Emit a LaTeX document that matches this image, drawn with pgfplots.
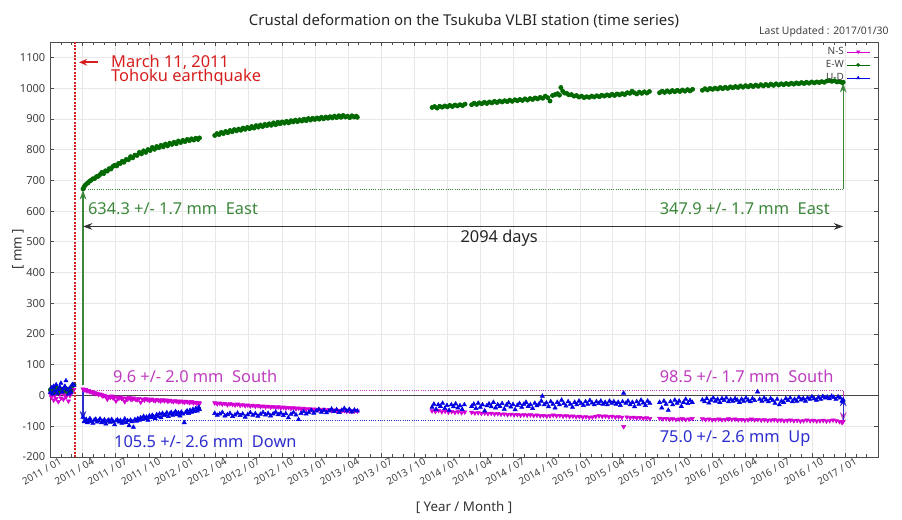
\documentclass[border=0pt]{standalone}
\usepackage{fontspec}
\setmainfont{Noto Sans}
\usepackage{pgfplots}
\usepackage{pgfplotstable}
\pgfplotsset{compat=1.18}
\usetikzlibrary{arrows.meta}
\definecolor{ewc}{RGB}{0,105,0}
\definecolor{ewl}{RGB}{60,135,60}
\definecolor{nsc}{RGB}{210,0,210}
\definecolor{nsl}{RGB}{190,60,190}
\definecolor{udc}{RGB}{0,0,225}
\definecolor{udl}{RGB}{45,45,205}
\definecolor{redc}{RGB}{215,30,30}
\newcommand\annfont{\fontsize{12.3}{14}\selectfont}

\pgfplotstableread{
d v
1 18
4 22
7 15
10 20
13 12
17 25
20 18
23 10
27 22
30 16
34 20
37 14
41 24
44 19
48 12
51 21
55 17
58 15
62 32
66 35
91 672
94 679
97 684
101 689
105 692
109 697
113 700
118 705
123 706
128 712
133 713
138 719
143 726
148 722
153 731
158 730
163 738
168 737
173 745
178 749
184 747
189 755
194 755
199 762
204 759
210 768
216 767
222 777
228 773
234 782
240 781
246 791
252 786
258 796
264 791
270 800
276 797
282 807
288 801
294 810
300 806
306 814
312 809
318 818
324 812
330 821
336 817
342 824
348 819
354 828
360 823
366 830
372 826
378 833
384 829
390 835
396 831
402 837
408 833
412 838
454 846
460 852
466 849
472 856
478 852
484 859
490 855
496 862
502 858
508 865
514 861
520 867
526 863
532 870
538 866
544 872
550 868
556 875
562 870
568 878
574 873
580 880
586 875
592 882
598 878
604 884
610 879
616 887
622 881
628 889
634 884
640 890
646 886
652 892
658 887
664 894
670 890
676 896
682 891
688 897
694 893
700 899
706 894
712 901
718 896
724 902
730 898
736 903
742 899
748 905
754 900
760 906
766 902
772 907
778 903
784 909
790 904
796 910
802 905
808 911
814 906
820 909
826 904
832 910
838 906
844 909
847 905
1053 937
1060 940
1067 935
1074 941
1081 938
1088 942
1095 939
1102 944
1109 940
1116 945
1123 942
1130 946
1137 943
1144 948
1162 946
1169 951
1176 947
1183 952
1190 949
1197 954
1204 950
1211 955
1218 952
1225 957
1232 953
1239 958
1246 955
1253 959
1260 956
1267 961
1274 957
1281 962
1288 959
1295 963
1302 960
1309 965
1316 961
1323 966
1330 963
1337 968
1344 965
1351 970
1358 967
1365 974
1372 969
1378 958
1385 976
1392 979
1399 982
1404 977
1408 1002
1413 990
1418 984
1424 983
1430 978
1437 979
1444 974
1451 976
1458 971
1465 974
1472 969
1479 972
1486 970
1493 974
1500 971
1507 975
1514 972
1521 977
1528 974
1535 978
1542 975
1549 980
1556 976
1563 981
1570 978
1577 982
1584 979
1591 985
1598 983
1604 990
1610 985
1617 981
1624 987
1631 983
1638 988
1645 984
1652 989
1680 985
1687 990
1694 986
1701 991
1708 987
1715 992
1722 988
1729 993
1736 989
1743 994
1750 990
1757 995
1764 991
1771 996
1798 993
1805 998
1812 994
1819 999
1826 996
1833 1000
1840 997
1847 1002
1854 998
1861 1003
1868 999
1875 1004
1882 1001
1889 1005
1896 1002
1903 1007
1910 1003
1917 1008
1924 1004
1931 1009
1938 1005
1945 1010
1952 1006
1959 1011
1966 1007
1973 1012
1980 1008
1987 1013
1994 1009
2001 1014
2008 1010
2015 1014
2022 1011
2029 1015
2036 1012
2043 1016
2050 1013
2057 1017
2064 1014
2071 1018
2078 1015
2085 1019
2092 1016
2099 1020
2106 1017
2113 1020
2120 1018
2127 1021
2134 1019
2141 1023
2148 1025
2155 1022
2162 1024
2169 1020
2176 1021
2183 1018
2186 1019
}\ewtab

\pgfplotstableread{
d v
1 5
4 -5
7 10
10 -15
13 0
17 -10
20 12
23 -20
27 5
30 -8
34 8
37 -12
41 3
44 -5
48 10
51 -18
55 0
58 6
62 15
66 20
91 21
94 18
98 19
102 15
106 16
110 12
114 13
118 8
122 10
126 6
130 7
134 3
138 5
142 2
146 -2
150 1
154 -3
158 -12
162 -4
166 -6
170 -2
174 -8
178 -5
182 -18
186 -7
190 -9
194 -5
198 -10
202 -8
206 -20
210 -9
214 -12
218 -7
222 -11
226 -13
230 -8
235 -12
240 -14
245 -10
250 -22
255 -12
260 -15
265 -11
270 -14
275 -16
280 -12
285 -15
290 -17
295 -13
300 -16
305 -18
310 -14
315 -17
320 -15
325 -19
330 -16
335 -18
340 -20
345 -17
350 -19
355 -21
360 -18
365 -20
370 -22
375 -19
380 -21
385 -23
390 -20
395 -24
400 -22
405 -25
410 -23
412 -26
454 -24
461 -27
468 -25
475 -28
482 -26
489 -30
496 -27
503 -29
510 -31
517 -28
524 -32
531 -30
538 -33
545 -31
552 -34
559 -32
566 -35
573 -33
580 -36
587 -34
594 -37
601 -35
608 -38
615 -36
622 -39
629 -37
636 -40
643 -38
650 -41
657 -39
664 -42
671 -40
678 -43
685 -41
692 -44
699 -42
706 -45
713 -43
720 -46
727 -44
734 -46
741 -45
748 -47
755 -45
762 -48
769 -46
776 -49
783 -47
790 -50
797 -48
804 -50
811 -49
818 -51
825 -50
832 -52
839 -50
847 -51
1053 -50
1062 -52
1071 -49
1080 -53
1089 -51
1098 -54
1107 -52
1116 -55
1125 -53
1134 -56
1143 -54
1162 -55
1171 -57
1180 -56
1189 -58
1198 -57
1207 -59
1216 -58
1225 -60
1234 -59
1243 -61
1252 -60
1261 -62
1270 -61
1279 -63
1288 -62
1297 -64
1306 -63
1315 -64
1324 -63
1333 -65
1342 -64
1351 -66
1360 -65
1369 -67
1378 -66
1387 -64
1396 -66
1405 -65
1414 -67
1423 -66
1432 -68
1441 -67
1450 -69
1459 -68
1468 -70
1477 -69
1486 -71
1495 -70
1504 -68
1513 -66
1522 -68
1531 -67
1540 -69
1549 -68
1558 -70
1567 -69
1576 -71
1581 -101
1590 -70
1599 -72
1608 -71
1617 -73
1626 -72
1635 -74
1644 -73
1653 -75
1680 -74
1689 -76
1698 -75
1707 -77
1716 -76
1725 -78
1734 -77
1743 -76
1752 -78
1761 -77
1770 -75
1798 -76
1807 -78
1816 -77
1825 -79
1834 -78
1843 -77
1852 -79
1861 -78
1870 -76
1879 -78
1888 -77
1897 -79
1906 -78
1915 -80
1924 -79
1933 -77
1942 -79
1951 -78
1960 -80
1969 -79
1978 -81
1987 -80
1996 -79
2005 -81
2014 -80
2023 -82
2032 -81
2041 -80
2050 -82
2059 -81
2068 -83
2077 -82
2086 -80
2095 -82
2104 -81
2113 -83
2122 -82
2131 -81
2140 -83
2149 -82
2158 -80
2167 -82
2176 -85
2183 -88
2186 -84
}\nstab

\pgfplotstableread{
d v
1 10
4 25
7 5
10 30
13 15
17 35
20 8
23 20
27 28
30 40
34 12
37 22
41 30
44 48
48 18
51 5
55 25
58 10
62 36
66 34
91 -70
94 -85
97 -80
100 -78
103 -88
106 -82
110 -75
114 -84
118 -90
122 -80
126 -77
130 -86
134 -82
138 -76
142 -88
146 -84
150 -79
154 -92
158 -83
162 -80
166 -87
170 -78
174 -85
178 -95
182 -82
186 -79
190 -86
194 -81
198 -90
202 -84
206 -76
210 -88
214 -82
218 -98
222 -80
226 -85
230 -103
234 -78
238 -83
242 -75
246 -80
250 -72
254 -78
258 -68
262 -75
266 -70
270 -80
274 -66
278 -72
282 -64
286 -70
290 -75
294 -62
298 -68
302 -60
306 -72
310 -58
314 -65
318 -62
322 -56
326 -68
330 -60
334 -55
338 -64
342 -58
346 -52
350 -62
354 -56
358 -66
362 -54
366 -60
370 -88
374 -55
378 -50
382 -58
386 -48
390 -54
394 -45
398 -52
402 -42
406 -50
410 -38
412 -45
454 -58
461 -64
468 -60
475 -55
482 -66
489 -62
496 -58
503 -68
510 -63
517 -57
524 -65
531 -60
538 -70
545 -62
552 -56
559 -64
566 -59
573 -67
580 -61
587 -55
594 -63
601 -58
608 -66
615 -60
622 -54
629 -62
636 -57
643 -65
650 -59
657 -72
664 -61
671 -55
678 -63
685 -78
692 -58
699 -52
706 -60
713 -55
720 -48
727 -57
734 -50
741 -45
748 -54
755 -48
762 -56
769 -50
776 -44
783 -52
790 -46
797 -55
804 -48
811 -42
818 -50
825 -45
832 -53
839 -47
847 -50
1053 -38
1058 -28
1064 -45
1070 -30
1076 -35
1082 -25
1088 -42
1094 -32
1100 -48
1106 -30
1112 -36
1118 -27
1124 -40
1130 -33
1136 -45
1142 -30
1162 -35
1168 -28
1174 -42
1180 -25
1186 -38
1192 -30
1198 -50
1204 -33
1210 -27
1216 -36
1222 -22
1228 -40
1234 -30
1240 -35
1246 -26
1252 -44
1258 -31
1264 -24
1270 -37
1276 -29
1282 -46
1288 -32
1294 -26
1300 -38
1306 -28
1312 -22
1318 -35
1324 -30
1330 -42
1336 -25
1342 -33
1348 -28
1354 -18
1357 -2
1362 -30
1368 -24
1374 -36
1380 -20
1386 -28
1392 -40
1398 -22
1404 -30
1410 -15
1416 -26
1422 -34
1428 -20
1434 -28
1440 -38
1446 -22
1452 -30
1458 -18
1464 -26
1470 -32
1476 -20
1482 -28
1488 -16
1494 -24
1500 -30
1506 -20
1512 -26
1518 -18
1524 -28
1530 -22
1536 -30
1542 -18
1548 -25
1554 -20
1560 -28
1566 -22
1572 -32
1578 -20
1581 8
1587 -25
1593 -18
1599 -30
1605 -22
1611 -36
1617 -20
1623 -28
1629 -15
1635 -24
1641 -32
1647 -18
1653 -25
1680 -22
1686 -40
1692 -18
1698 -28
1704 -48
1710 -20
1716 -30
1722 -15
1728 -25
1734 -18
1740 -35
1746 -22
1752 -12
1758 -26
1764 -16
1770 -22
1798 -14
1804 -20
1810 -10
1816 -24
1822 -15
1828 -8
1834 -18
1840 -12
1846 -22
1852 -10
1858 -16
1864 -8
1870 -20
1876 -13
1882 -18
1888 -10
1894 -15
1900 -22
1906 -12
1912 -18
1918 -8
1924 -15
1930 -20
1936 -10
1942 -16
1950 12
1956 -12
1962 -18
1968 -8
1974 -14
1980 -20
1986 -10
1992 -16
1998 -25
2004 -12
2010 -30
2016 -18
2022 -22
2028 -10
2034 -16
2040 -8
2046 -20
2052 -12
2058 -18
2064 -6
2070 -14
2076 -10
2082 -18
2088 -8
2094 -12
2100 -4
2106 -10
2112 -15
2118 -6
2124 -12
2130 -3
2136 -8
2142 -5
2148 -10
2154 -2
2160 -6
2166 -12
2172 -4
2178 -8
2183 -18
2186 -14
}\udtab

\begin{document}
\begin{tikzpicture}
\path[use as bounding box] (-37.5pt,-46.5pt) rectangle (639pt,342.75pt);
\begin{axis}[
  at={(0,0)}, anchor=south west,
  scale only axis, width=621pt, height=311.25pt,
  xmin=0, xmax=2282, ymin=-200, ymax=1150,
  clip=false,
  axis line style={gray!60!black, line width=0.7pt},
  xtick={0,90,181,273,365,456,547,639,731,821,912,1004,1096,1186,1277,1369,1461,1551,1642,1734,1826,1917,2008,2100,2192},
  xticklabels={2011 / 01,2011 / 04,2011 / 07,2011 / 10,2012 / 01,2012 / 04,2012 / 07,2012 / 10,2013 / 01,2013 / 04,2013 / 07,2013 / 10,2014 / 01,2014 / 04,2014 / 07,2014 / 10,2015 / 01,2015 / 04,2015 / 07,2015 / 10,2016 / 01,2016 / 04,2016 / 07,2016 / 10,2017 / 01},
  minor xtick={31,59,120,151,212,243,304,334,396,425,486,517,578,609,670,700,762,790,851,882,943,974,1035,1065,1127,1155,1216,1247,1308,1339,1400,1430,1492,1520,1581,1612,1673,1704,1765,1795,1857,1886,1947,1978,2039,2070,2131,2161,2223,2251},
  ytick={-200,-100,0,100,200,300,400,500,600,700,800,900,1000,1100},
  /pgf/number format/assume math mode=true,
  /pgf/number format/1000 sep={},
  tick align=inside,
  major tick length=3pt, minor tick length=2pt,
  tick style={gray!60!black, line width=0.5pt},
  grid=major,
  major grid style={gray!18, line width=0.5pt},
  x tick label style={rotate=30, anchor=north east, font=\fontsize{7.5}{8}\selectfont, text=black!75, inner sep=0.5pt, xshift=6pt, yshift=-3pt},
  y tick label style={font=\fontsize{8.3}{9}\selectfont, text=black!75},
  legend style={at={(rel axis cs:0.992,0.998)}, anchor=north east, draw=none, fill=none,
    font=\fontsize{7.5}{8}\selectfont, text=black!75, inner sep=1pt, row sep=-1pt},
  legend cell align=right,
  legend plot pos=right,
]
\addlegendimage{nsc, mark=triangle*, mark options={rotate=180}, mark size=1.4pt, line width=0.3pt}
\addlegendentry{N-S}
\addlegendimage{ewc, mark=*, mark size=1.2pt, line width=0.3pt}
\addlegendentry{E-W}
\addlegendimage{udc, mark=triangle*, mark size=1.4pt, line width=0.3pt}
\addlegendentry{U-D}

\addplot[forget plot, only marks, nsc, mark=triangle*, mark size=1.8pt, mark options={rotate=180}] table[x=d, y=v] {\nstab};
\addplot[forget plot, only marks, ewc, mark=*, mark size=1.6pt] table[x=d, y=v] {\ewtab};
\addplot[forget plot, only marks, udc, mark=triangle*, mark size=1.8pt] table[x=d, y=v] {\udtab};

% zero line
\draw[gray!55!black, line width=0.6pt] (axis cs:0,0) -- (axis cs:2282,0);
% earthquake line
\draw[draw=redc, dash pattern=on 1.5pt off 1pt, line width=0.9pt] (axis cs:69,-200) -- (axis cs:69,1150);
\draw[redc, line width=1.2pt, -{Stealth[length=6pt,width=5pt]}] (axis cs:132,1084) -- (axis cs:80,1084);
\node[anchor=west, text=redc, font=\annfont, inner sep=0pt] at (axis cs:168,1085) {March 11, 2011};
\node[anchor=west, text=redc, font=\annfont, inner sep=0pt] at (axis cs:168,1035) {Tohoku earthquake};

% dotted reference lines
\draw[ewl, densely dotted, line width=0.7pt] (axis cs:91,671) -- (axis cs:2186,671);
\draw[nsl, densely dotted, line width=0.7pt] (axis cs:91,15) -- (axis cs:2186,15);
\draw[udl, densely dotted, line width=0.7pt] (axis cs:91,-80) -- (axis cs:2186,-80);

% arrows
\draw[ewl, line width=0.9pt, -{Stealth[length=7pt,width=5pt]}] (axis cs:91,35) -- (axis cs:91,668);
\draw[udl, line width=0.9pt, -{Stealth[length=7pt,width=5pt]}] (axis cs:91,25) -- (axis cs:91,-80);
\draw[ewl, line width=0.9pt, -{Stealth[length=7pt,width=5pt]}] (axis cs:2186,671) -- (axis cs:2186,1016);
\draw[nsl, line width=0.9pt, -{Stealth[length=7pt,width=5pt]}] (axis cs:2186,15) -- (axis cs:2186,-84);
\draw[udl, line width=0.9pt, -{Stealth[length=7pt,width=5pt]}] (axis cs:2186,-80) -- (axis cs:2186,-5);
\draw[black!80, line width=0.6pt, {Stealth[length=7pt,width=5pt]}-{Stealth[length=7pt,width=5pt]}] (axis cs:91,550) -- (axis cs:2186,550);

% labels
\node[anchor=west, text=ewl, font=\annfont, inner sep=0pt] at (axis cs:104,609) {634.3 +/- 1.7 mm\ \ East};
\node[anchor=west, text=ewl, font=\annfont, inner sep=0pt] at (axis cs:1680,609) {347.9 +/- 1.7 mm\ \ East};
\node[text=black!85, font=\annfont, inner sep=0pt] at (axis cs:1238,512) {2094 days};
\node[anchor=west, text=nsl, font=\annfont, inner sep=0pt] at (axis cs:173,63) {9.6 +/- 2.0 mm\ \ South};
\node[anchor=west, text=nsl, font=\annfont, inner sep=0pt] at (axis cs:1680,63) {98.5 +/- 1.7 mm\ \ South};
\node[anchor=west, text=udl, font=\annfont, inner sep=0pt] at (axis cs:176,-151) {105.5 +/- 2.6 mm\ \ Down};
\node[anchor=west, text=udl, font=\annfont, inner sep=0pt] at (axis cs:1680,-139) {75.0 +/- 2.6 mm\ \ Up};

% titles
\node[font=\fontsize{11.2}{13}\selectfont, text=black!85] at ([yshift=16pt]rel axis cs:0.5,1) {Crustal deformation on the Tsukuba VLBI station (time series)};
\node[anchor=east, font=\fontsize{7.8}{9}\selectfont, text=black!75] at ([xshift=11.5pt, yshift=7.5pt]rel axis cs:1,1) {Last Updated : 2017/01/30};
\node[font=\fontsize{10}{12}\selectfont, text=black!80] at ([yshift=-38pt]rel axis cs:0.5,0) {[ Year / Month ]};
\node[rotate=90, font=\fontsize{10}{12}\selectfont, text=black!80] at ([xshift=-24pt]rel axis cs:0,0.5) {[ mm ]};
\end{axis}
\end{tikzpicture}
\end{document}
